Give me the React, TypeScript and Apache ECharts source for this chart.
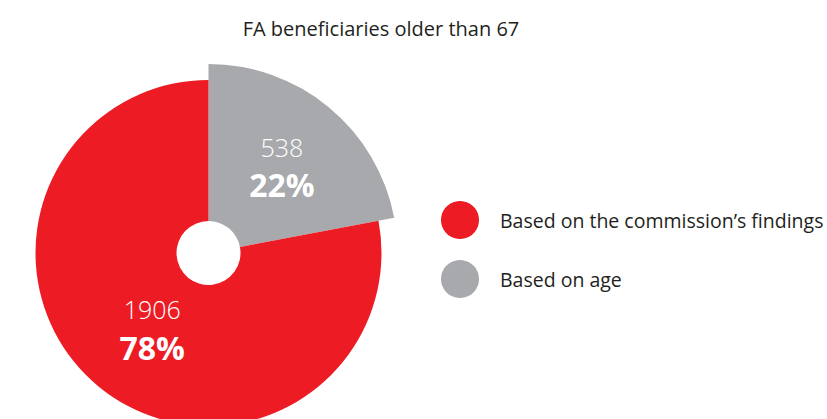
import React, { useEffect, useRef } from "react";
import * as echarts from "echarts";

const titleText = "FA beneficiaries older than 67";
const categories = ["Based on the commission’s findings", "Based on age"];
const values = [1906, 538];
const colors = ["#ED1C24", "#A7A9AC"];

const FONT = "'Open Sans', 'Noto Sans', sans-serif";

export default function App() {
  const ref = useRef<HTMLDivElement>(null);
  useEffect(() => {
    if (!ref.current) return;
    const chart = echarts.init(ref.current, undefined, { renderer: "svg" });
    const center = [208.5, 253];
    const label = (offset: number[]) => ({
      show: true,
      position: "inside",
      formatter: "{v|{c}}\n{p|{d}%}",
      offset,
      rich: {
        v: { fontFamily: FONT, fontSize: 25, color: "#fff", lineHeight: 38, fontWeight: 300 },
        p: { fontFamily: FONT, fontSize: 32, color: "#fff", fontWeight: "bold", lineHeight: 38 },
      },
    });
    const hidden = {
      itemStyle: { color: "rgba(0,0,0,0)", borderWidth: 0 },
      label: { show: false },
      emphasis: { disabled: true },
      tooltip: { show: false },
    };
    chart.setOption({
      animation: false,
      title: {
        text: titleText,
        left: 376,
        top: 13,
        textAlign: "center",
        textStyle: { fontFamily: FONT, fontSize: 20, fontWeight: "normal", color: "#231F20" },
      },
      legend: {
        data: categories,
        orient: "vertical",
        left: 436,
        top: 196,
        itemWidth: 38,
        itemHeight: 38,
        itemGap: 21,
        icon: "circle",
        selectedMode: false,
        textStyle: { fontFamily: FONT, fontSize: 19.5, color: "#231F20", padding: [0, 0, 0, 16] },
      },
      series: [
        {
          type: "pie",
          center,
          radius: [32, 189],
          startAngle: 90,
          clockwise: true,
          avoidLabelOverlap: false,
          percentPrecision: 0,
          labelLine: { show: false },
          data: [
            {
              name: categories[1],
              value: values[1],
              itemStyle: { color: colors[1], borderWidth: 0 },
              label: label([1, 0]),
            },
            { name: "__rest", value: values[0], ...hidden },
          ],
        },
        {
          type: "pie",
          center,
          radius: [32, 173],
          startAngle: 90,
          clockwise: true,
          avoidLabelOverlap: false,
          percentPrecision: 0,
          labelLine: { show: false },
          data: [
            { name: "__gap", value: values[1], ...hidden },
            {
              name: categories[0],
              value: values[0],
              itemStyle: { color: colors[0], borderWidth: 0 },
              label: label([11, -6]),
            },
          ],
        },
      ],
    });
    return () => chart.dispose();
  }, []);
  return (
    <div
      ref={ref}
      style={{ position: "fixed", left: 0, top: 0, width: 827, height: 419, background: "#fff" }}
    />
  );
}
